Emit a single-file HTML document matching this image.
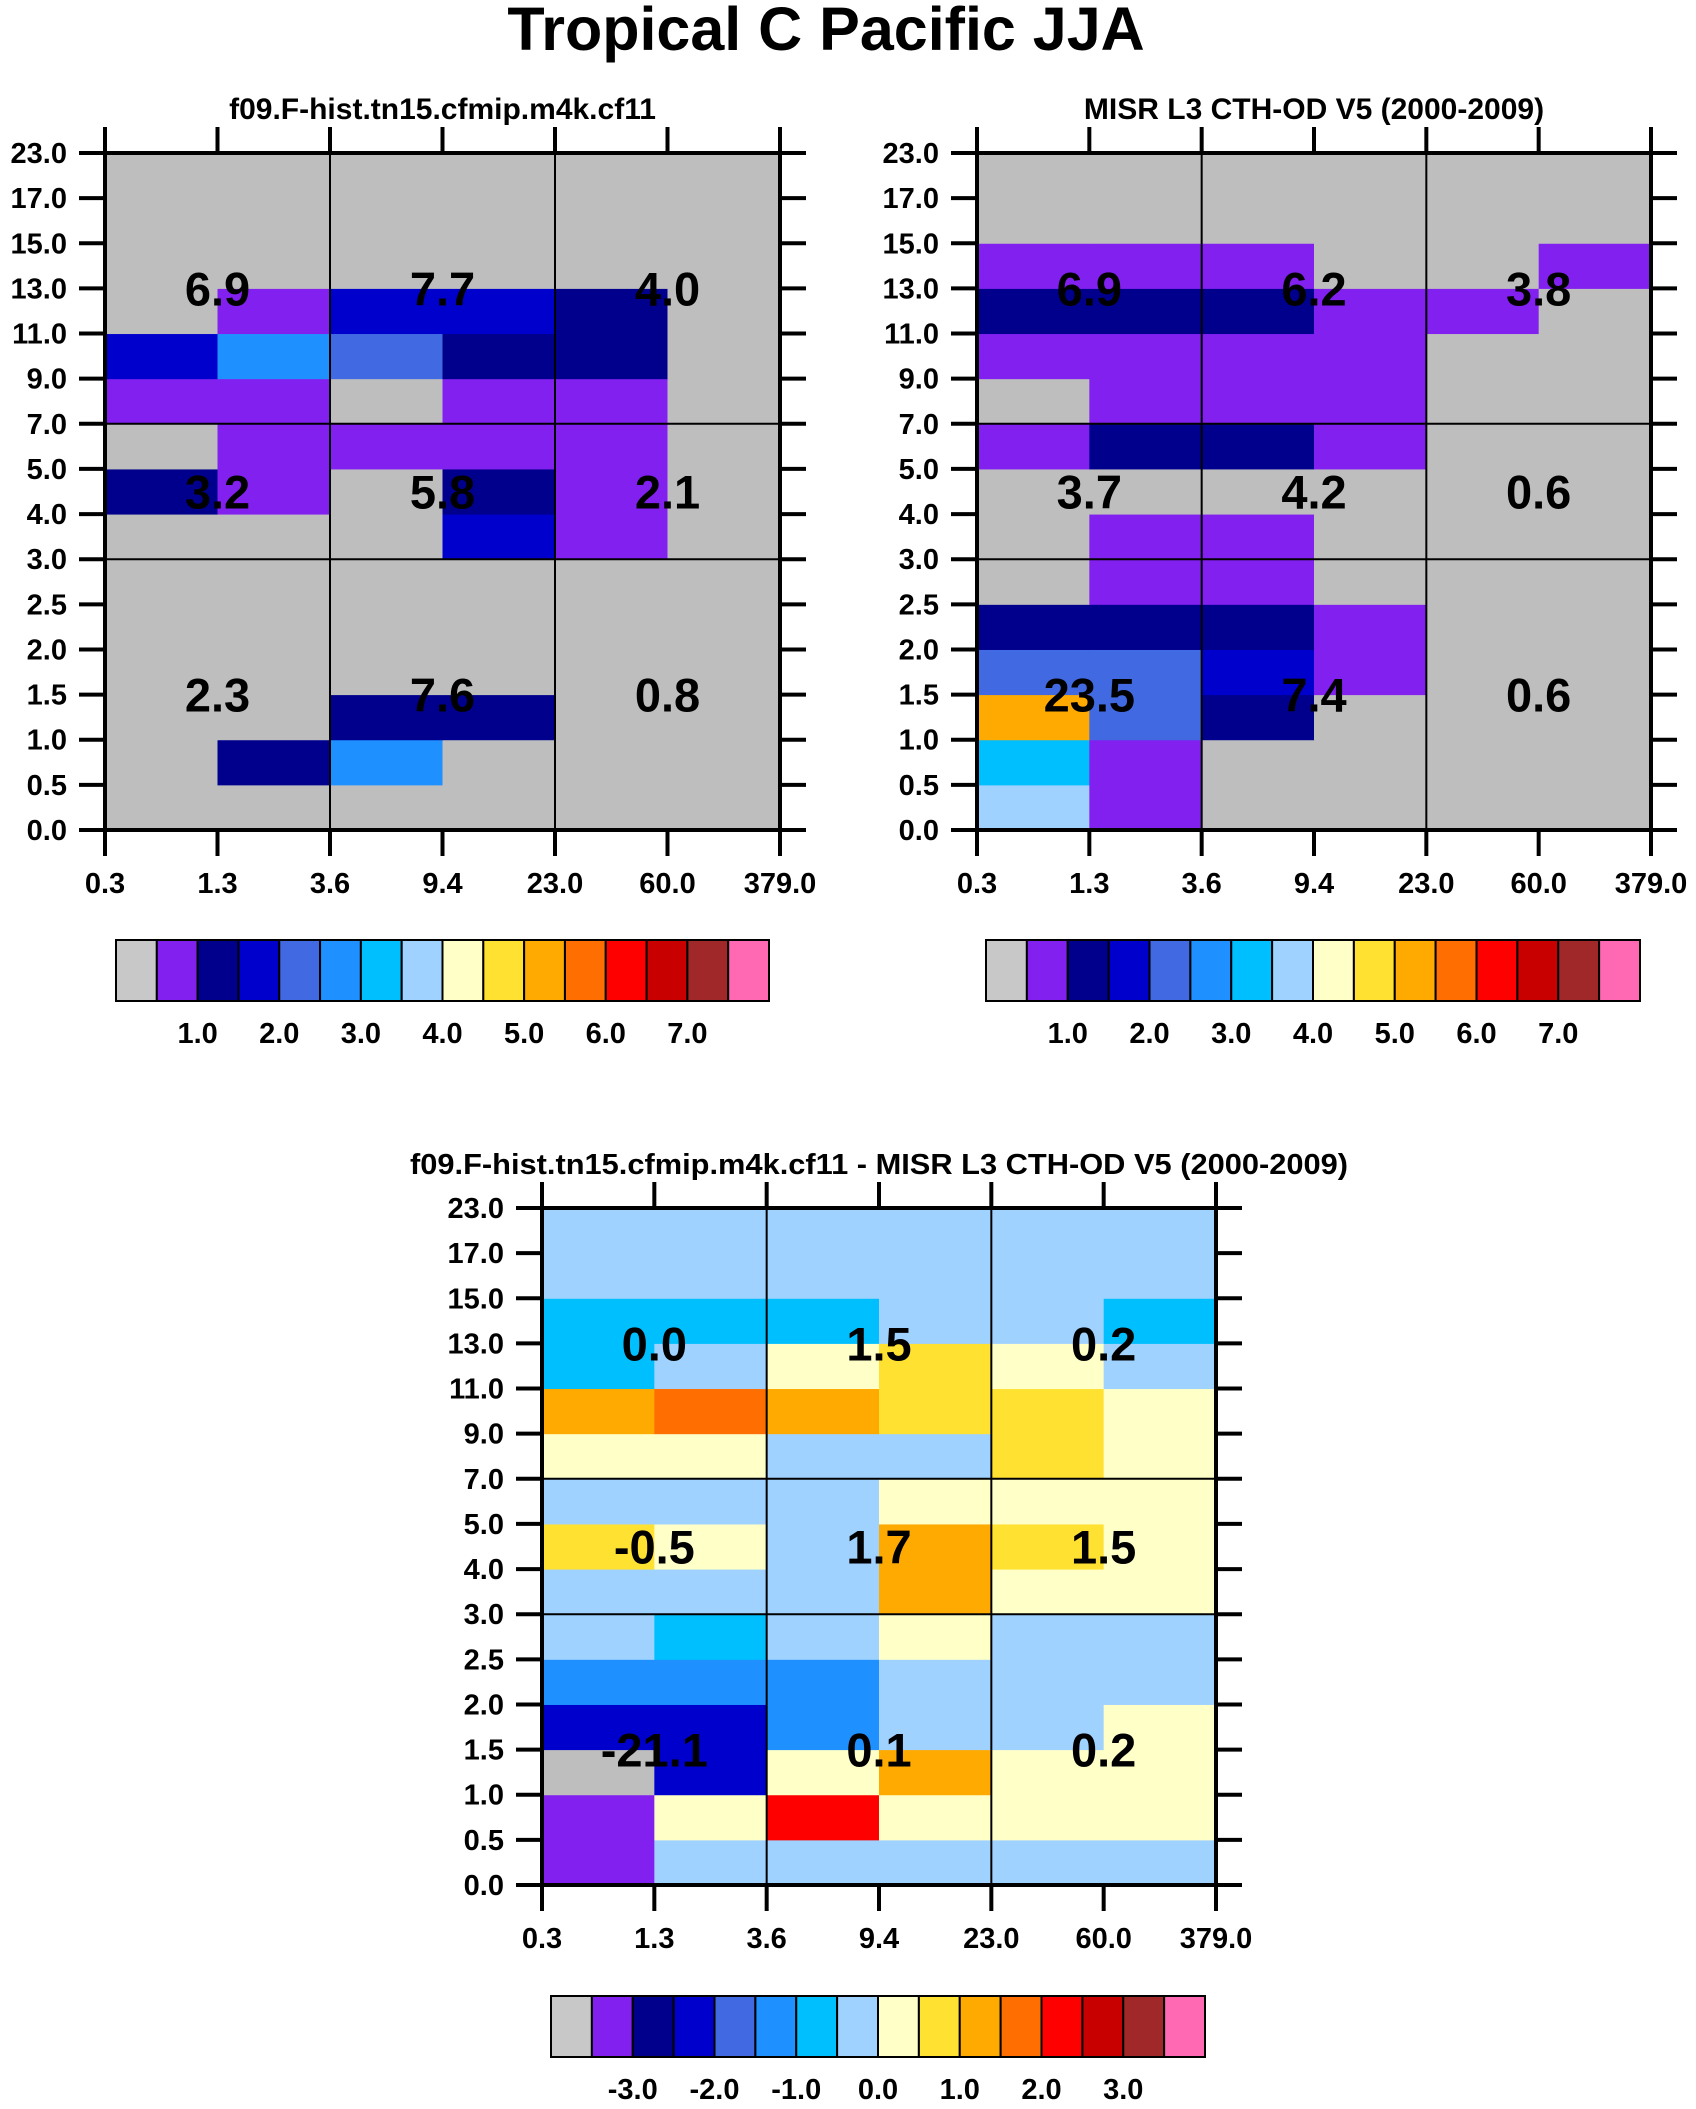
<!DOCTYPE html>
<html><head><meta charset="utf-8"><style>
html,body{margin:0;padding:0;background:#fff;}
svg{display:block;font-family:"Liberation Sans",sans-serif;font-weight:bold;}
</style></head><body>
<svg id="s" width="1696" height="2109" viewBox="0 0 1696 2109" xmlns="http://www.w3.org/2000/svg">
<text x="826" y="50" text-anchor="middle" font-size="61">Tropical C Pacific JJA</text>
</svg>
<script>
const palette=["#bebebe","#8220f0","#00008c","#0000cd","#4169e1","#1e90ff","#00bfff","#a0d2ff","#ffffc8","#ffe132","#ffaa00","#ff6e00","#ff0000","#c80000","#a02828","#ff69b4"];
const xTicks=["0.3","1.3","3.6","9.4","23.0","60.0","379.0"];
const yTicks=["0.0","0.5","1.0","1.5","2.0","2.5","3.0","4.0","5.0","7.0","9.0","11.0","13.0","15.0","17.0","23.0"];
const absCbLabels=["1.0","2.0","3.0","4.0","5.0","6.0","7.0"];
const diffCbLabels=["-3.0","-2.0","-1.0","0.0","1.0","2.0","3.0"];
// cell values: rows bottom(0-0.5) to top(17-23), 6 columns
const modelVals=[
[0,0,0,0,0,0],
[0,1.25,2.75,0,0,0],
[0,0,1.25,1.25,0,0],
[0,0,0,0,0,0],
[0,0,0,0,0,0],
[0,0,0,0,0,0],
[0,0,0,1.75,0.75,0],
[1.25,0.75,0,1.25,0.75,0],
[0,0.75,0.75,0.75,0.75,0],
[0.75,0.75,0,0.75,0.75,0],
[1.75,2.75,2.25,1.25,1.25,0],
[0,0.75,1.75,1.75,1.25,0],
[0,0,0,0,0,0],
[0,0,0,0,0,0],
[0,0,0,0,0,0]];
const obsVals=[
[3.75,0.75,0,0,0,0],
[3.25,0.75,0,0,0,0],
[5.25,2.25,1.25,0,0,0],
[2.25,2.25,1.75,0.75,0,0],
[1.25,1.25,1.25,0.75,0,0],
[0,0.75,0.75,0,0,0],
[0,0.75,0.75,0,0,0],
[0,0,0,0,0,0],
[0.75,1.25,1.25,0.75,0,0],
[0,0.75,0.75,0.75,0,0],
[0.75,0.75,0.75,0.75,0,0],
[1.25,1.25,1.25,0.75,0.75,0],
[0.75,0.75,0.75,0,0,0.75],
[0,0,0,0,0,0],
[0,0,0,0,0,0]];
const diffVals=[
[-3.25,-0.25,-0.25,-0.25,-0.25,-0.25],
[-3.25,0.25,2.25,0.25,0.25,0.25],
[null,-2.25,0.25,1.25,0.25,0.25],
[-2.25,-2.25,-1.25,-0.25,-0.25,0.25],
[-1.25,-1.25,-1.25,-0.25,-0.25,-0.25],
[-0.25,-0.75,-0.25,0.25,-0.25,-0.25],
[-0.25,-0.25,-0.25,1.25,0.25,0.25],
[0.75,0.25,-0.25,1.25,0.75,0.25],
[-0.25,-0.25,-0.25,0.25,0.25,0.25],
[0.25,0.25,-0.25,-0.25,0.75,0.25],
[1.25,1.75,1.25,0.75,0.75,0.25],
[-0.75,-0.25,0.25,0.75,0.25,-0.25],
[-0.75,-0.75,-0.75,-0.25,-0.25,-0.75],
[-0.25,-0.25,-0.25,-0.25,-0.25,-0.25],
[-0.25,-0.25,-0.25,-0.25,-0.25,-0.25]];
const modelTotals=[["2.3","7.6","0.8"],["3.2","5.8","2.1"],["6.9","7.7","4.0"]];
const obsTotals=[["23.5","7.4","0.6"],["3.7","4.2","0.6"],["6.9","6.2","3.8"]];
const diffTotals=[["-21.1","0.1","0.2"],["-0.5","1.7","1.5"],["0.0","1.5","0.2"]];

const NS="http://www.w3.org/2000/svg";
const svg=document.getElementById('s');
function mk(tag,attrs,parent){const e=document.createElementNS(NS,tag);for(const k in attrs)e.setAttribute(k,attrs[k]);(parent||svg).appendChild(e);return e;}
function absIdx(v){if(v===null||v<=0)return 0;return Math.min(15,Math.floor(v/0.5));}
function diffIdx(v){if(v===null)return 0;return Math.max(1,Math.min(15,Math.floor((v+4)/0.5)));}

function panel(name,L,T,R,B,title,vals,idxFn,totals,titleLen){
  const g=mk('g',{});
  
  
  const nc=6,nr=15;
  const xs=i=>L+(R-L)*i/nc;
  const ys=j=>B-(B-T)*j/nr;
  for(let j=0;j<nr;j++)for(let i=0;i<nc;i++){
    const r=mk('rect',{x:xs(i),y:ys(j+1),width:xs(i+1)-xs(i)+0.5,height:ys(j)-ys(j+1)+0.5,fill:palette[idxFn(vals[j][i])]},g);
    
    
  }
  [2,4].forEach(i=>mk('line',{x1:xs(i),x2:xs(i),y1:T,y2:B,stroke:'#000','stroke-width':2},g));
  [6,9].forEach(j=>mk('line',{x1:L,x2:R,y1:ys(j),y2:ys(j),stroke:'#000','stroke-width':2},g));
  mk('rect',{x:L,y:T,width:R-L,height:B-T,fill:'none',stroke:'#000','stroke-width':4},g);
  for(let j=0;j<=nr;j++){
    mk('line',{x1:L-26,x2:L,y1:ys(j),y2:ys(j),stroke:'#000','stroke-width':4},g);
    mk('line',{x1:R,x2:R+26,y1:ys(j),y2:ys(j),stroke:'#000','stroke-width':4},g);
    const t=mk('text',{x:L-38,y:ys(j)+10,'text-anchor':'end','font-size':29},g);
    t.textContent=yTicks[j];
    
    
  }
  for(let i=0;i<=nc;i++){
    mk('line',{x1:xs(i),x2:xs(i),y1:T-26,y2:T,stroke:'#000','stroke-width':4},g);
    mk('line',{x1:xs(i),x2:xs(i),y1:B,y2:B+26,stroke:'#000','stroke-width':4},g);
    const t=mk('text',{x:xs(i),y:B+63,'text-anchor':'middle','font-size':29},g);
    t.textContent=xTicks[i];
    
    
  }
  const rowC=[3,7.5,12];
  for(let a=0;a<3;a++)for(let b=0;b<3;b++){
    const t=mk('text',{x:xs(2*b+1),y:ys(rowC[a])+17,'text-anchor':'middle','font-size':47},g);
    t.textContent=totals[a][b];
    
    
  }
  const tt=mk('text',{x:(L+R)/2,y:T-34,'text-anchor':'middle','font-size':titleLen?29:30},g);
  if(titleLen){tt.setAttribute('textLength',titleLen);tt.setAttribute('lengthAdjust','spacingAndGlyphs');}
  tt.textContent=title;
  
  
}
function colorbar(name,L,T,R,B,labels){
  const g=mk('g',{});
  
  
  const w=(R-L)/16;
  for(let k=0;k<16;k++){
    const r=mk('rect',{x:L+k*w,y:T,width:w,height:B-T,fill:k===0?'#c8c8c8':palette[k],stroke:'#000','stroke-width':2},g);
    
    
  }
  labels.forEach((s,i)=>{
    const t=mk('text',{x:L+(2+2*i)*w,y:B+42,'text-anchor':'middle','font-size':29},g);
    t.textContent=s;
    
    
  });
}
panel('model-panel',105,153,780,830,'f09.F-hist.tn15.cfmip.m4k.cf11',modelVals,absIdx,modelTotals,null);
panel('obs-panel',977,153,1651,830,'MISR L3 CTH-OD V5 (2000-2009)',obsVals,absIdx,obsTotals,null);
panel('diff-panel',542,1208,1216,1885,'f09.F-hist.tn15.cfmip.m4k.cf11 - MISR L3 CTH-OD V5 (2000-2009)',diffVals,diffIdx,diffTotals,938);
colorbar('model-colorbar',116,940,769,1001,absCbLabels);
colorbar('obs-colorbar',986,940,1640,1001,absCbLabels);
colorbar('diff-colorbar',551,1996,1205,2057,diffCbLabels);
</script>
</body></html>
